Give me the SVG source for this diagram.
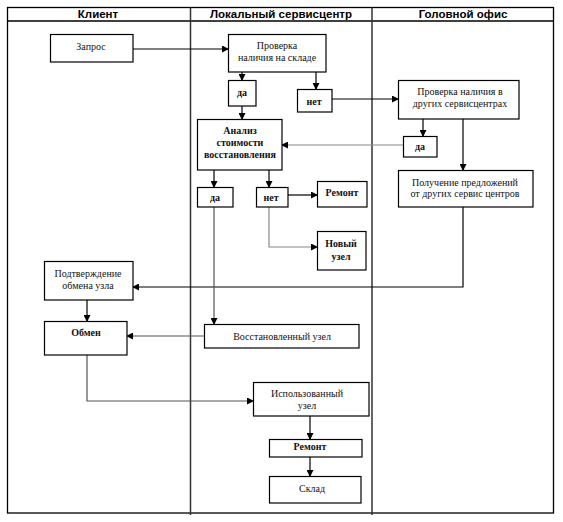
<svg xmlns="http://www.w3.org/2000/svg" width="563" height="522" viewBox="0 0 563 522">
<defs>
<marker id="ah" markerWidth="7" markerHeight="7" refX="6" refY="3.5" orient="auto" markerUnits="userSpaceOnUse">
<path d="M0,0 L7,3.5 L0,7 Z" fill="#000"/>
</marker>
<style>
.frame{fill:none;stroke:#000;stroke-width:1.3}
.div{stroke:#333;stroke-width:1.5}
.hd{font-family:'Liberation Sans',Arial,sans-serif;font-size:11.5px;font-weight:bold;text-anchor:middle;fill:#000}
.box rect{fill:#fff;stroke:#000;stroke-width:1.2}
.box text{font-size:10px;text-anchor:middle;fill:#111}
.b text{font-weight:bold}
.c{fill:none;stroke:#000;stroke-width:1.2;marker-end:url(#ah)}
.g{stroke:#888}
.dg{stroke:#555}
</style>
</defs>
<rect width="563" height="522" fill="#fff"/>
<g id="lanes">
<rect class="frame" x="7.5" y="7.5" width="546" height="505.5"/>
<line class="frame" x1="7.5" y1="21" x2="553.5" y2="21"/>
<line class="div" x1="190.5" y1="7.5" x2="190.5" y2="515"/>
<line class="div" x1="372" y1="7.5" x2="372" y2="515"/>
<text class="hd" x="98" y="18">Клиент</text>
<text class="hd" x="281" y="18">Локальный сервисцентр</text>
<text class="hd" x="463" y="18">Головной офис</text>
</g>
<g id="connectors">
<path class="c" d="M133,49 H228"/>
<path class="c" d="M242,72 V80"/>
<path class="c" d="M316,72 V89"/>
<path class="c" d="M332,99 H398"/>
<path class="c" d="M242,106 V119"/>
<path class="c" d="M423,119 V136"/>
<path class="c" d="M463,119 V170"/>
<path class="c g" d="M403,145 H282"/>
<path class="c" d="M214,170 V187"/>
<path class="c" d="M269,170 V187"/>
<path class="c" d="M288,195 H317"/>
<path class="c g" d="M269,207 V247 H317"/>
<path class="c" d="M463,207 V287 H133"/>
<path class="c dg" d="M214,207 V324"/>
<path class="c" d="M87,300 V321"/>
<path class="c dg" d="M204,336 H127"/>
<path class="c dg" d="M87,355 V401 H253"/>
<path class="c" d="M310,416 V439"/>
<path class="c" d="M310,457 V476"/>
</g>
<g id="nodes" style="font-family:'Liberation Serif','Times New Roman',serif">
<g id="zapros" class="box"><rect x="50.5" y="34.5" width="82.5" height="27.5"/><text x="91" y="50">Запрос</text></g>
<g id="proverka-sklad" class="box"><rect x="228.5" y="34.5" width="97.5" height="37.5"/><text x="277" y="48.5">Проверка</text><text x="277" y="60.5">наличия на складе</text></g>
<g id="da1" class="box b"><rect x="228.5" y="80.5" width="27.5" height="25.5"/><text x="242" y="96">да</text></g>
<g id="net1" class="box b"><rect x="297.5" y="89.5" width="34.5" height="22.5"/><text x="314" y="105">нет</text></g>
<g id="proverka-drugih" class="box"><rect x="398.5" y="80.5" width="120.5" height="38.5"/><text x="460" y="94.5">Проверка наличия в</text><text x="460" y="106.5">других сервисцентрах</text></g>
<g id="da-ho" class="box b"><rect x="403.5" y="136.5" width="33.5" height="20.5"/><text x="420" y="150">да</text></g>
<g id="analiz" class="box b"><rect x="197.5" y="119.5" width="84.5" height="50.5"/><text x="240" y="133.5">Анализ</text><text x="240" y="145.5">стоимости</text><text x="240" y="157.5">восстановления</text></g>
<g id="da2" class="box b"><rect x="197.5" y="187.5" width="35.5" height="19.5"/><text x="215" y="200.5">да</text></g>
<g id="net2" class="box b"><rect x="256.5" y="187.5" width="31.5" height="19.5"/><text x="271" y="200.5">нет</text></g>
<g id="remont1" class="box b"><rect x="317.5" y="181.5" width="49.5" height="25.5"/><text x="342" y="195.5">Ремонт</text></g>
<g id="novyi-uzel" class="box b"><rect x="317.5" y="231.5" width="48.5" height="38.5"/><text x="341" y="246.5">Новый</text><text x="341" y="259.5">узел</text></g>
<g id="poluchenie" class="box"><rect x="398.5" y="170.5" width="134.5" height="36.5"/><text x="465" y="185.5">Получение предложений</text><text x="465" y="196.5">от других сервис центров</text></g>
<g id="podtverzhdenie" class="box"><rect x="44.5" y="261.5" width="88.5" height="38.5"/><text x="88" y="276.5">Подтверждение</text><text x="88" y="288.5">обмена узла</text></g>
<g id="obmen" class="box b"><rect x="44.5" y="321.5" width="82.5" height="33.5"/><text x="86" y="335.5">Обмен</text></g>
<g id="vosstanovlennyi" class="box"><rect x="204.5" y="324.5" width="154.5" height="23.5"/><text x="282" y="339.5">Восстановленный узел</text></g>
<g id="ispolzovannyi" class="box"><rect x="253.5" y="382.5" width="115.5" height="33.5"/><text x="307" y="396.5">Использованный</text><text x="307" y="408.5">узел</text></g>
<g id="remont2" class="box b"><rect x="269.5" y="439.5" width="92.5" height="17.5"/><text x="310" y="449.5">Ремонт</text></g>
<g id="sklad" class="box"><rect x="269.5" y="476.5" width="91.5" height="26.5"/><text x="312" y="491.5">Склад</text></g>
</g>
</svg>
